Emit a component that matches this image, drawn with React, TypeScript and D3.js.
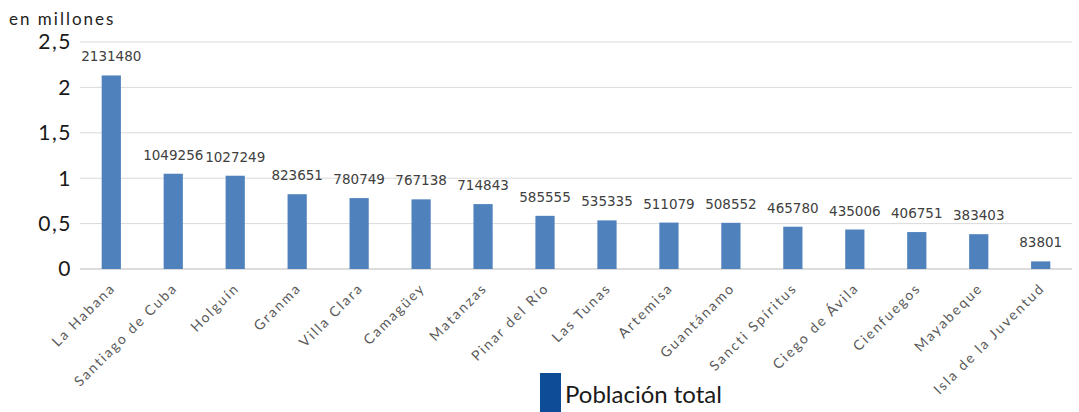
import React from "react";
import * as d3 from "d3";

const categories = [
  "La Habana", "Santiago de Cuba", "Holguín", "Granma", "Villa Clara", "Camagüey",
  "Matanzas", "Pinar del Río", "Las Tunas", "Artemisa", "Guantánamo", "Sancti Spíritus",
  "Ciego de Ávila", "Cienfuegos", "Mayabeque", "Isla de la Juventud",
];
const population = [
  2131480, 1049256, 1027249, 823651, 780749, 767138, 714843, 585555, 535335,
  511079, 508552, 465780, 435006, 406751, 383403, 83801,
];
const yTicks = [0, 0.5, 1, 1.5, 2, 2.5];
const yTickLabels = ["0", "0,5", "1", "1,5", "2", "2,5"];
const unitLabel = "en millones";
const seriesName = "Población total";

const W = 1079;
const H = 412;
const M = { left: 80, right: 7, top: 42, bottom: 143 };

export default function App() {
  const x = d3
    .scaleBand<string>()
    .domain(categories)
    .range([M.left, W - M.right])
    .paddingInner(0.69)
    .paddingOuter(0.35);
  const y = d3.scaleLinear().domain([0, 2.5]).range([H - M.bottom, M.top]);
  const font = "Lato, 'Open Sans', sans-serif";

  return (
    <svg
      width={W}
      height={H}
      style={{ position: "absolute", left: 0, top: 0, background: "#fff" }}
    >
      <text x={9} y={25} fontFamily={font} fontSize={17} letterSpacing={2} fill="#222">
        {unitLabel}
      </text>
      {yTicks.map((t, i) => (
        <g key={t}>
          <line
            x1={M.left}
            x2={W - M.right}
            y1={y(t)}
            y2={y(t)}
            stroke={t === 0 ? "#d0d0d0" : "#dadada"}
            strokeWidth={t === 0 ? 1.5 : 1}
          />
          <text
            x={72}
            y={y(t)}
            dy="0.35em"
            textAnchor="end"
            fontFamily={font}
            fontSize={21}
            letterSpacing={1.5}
            fill="#1a1a1a"
          >
            {yTickLabels[i]}
          </text>
        </g>
      ))}
      {categories.map((c, i) => {
        const v = population[i] / 1e6;
        const bx = x(c)!;
        const cx = bx + x.bandwidth() / 2;
        return (
          <g key={c}>
            <rect
              x={bx}
              y={y(v)}
              width={x.bandwidth()}
              height={y(0) - y(v)}
              fill="#4f81bd"
            />
            <text
              x={cx}
              y={y(v) - 14}
              textAnchor="middle"
              fontFamily="'DejaVu Sans', Verdana, sans-serif"
              fontSize={13.5}
              fill="#404040"
            >
              {population[i]}
            </text>
            <text
              transform={`translate(${cx + 5},${y(0) + 20}) rotate(-45)`}
              textAnchor="end"
              fontFamily={font}
              fontSize={14}
              letterSpacing={2}
              fill="#595959"
            >
              {c}
            </text>
          </g>
        );
      })}
      <rect x={540} y={373} width={21} height={39} fill="#0f4c97" />
      <text x={565} y={403} fontFamily={font} fontSize={24} fill="#1a1a1a">
        {seriesName}
      </text>
    </svg>
  );
}
